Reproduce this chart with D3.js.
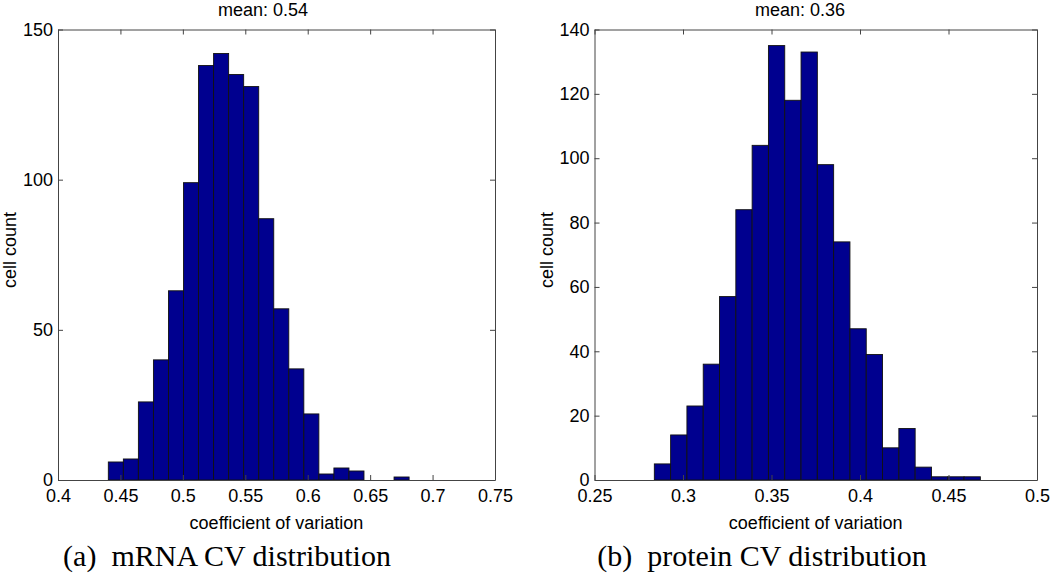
<!DOCTYPE html>
<html>
<head>
<meta charset="utf-8">
<script src="https://cdn.jsdelivr.net/npm/d3@7"></script>
<style>
  body { margin: 0; background: #fff; }
  svg { display: block; }
</style>
</head>
<body>
<div id="chart"></div>
<script>
const width = 1050
const height = 578

// mRNA CV histogram, 20 equal bins between the min and max CV
const mrnaRange = [0.4403, 0.6812]
const mrnaCounts = [6, 7, 26, 40, 63, 99, 138, 142, 135, 131, 87, 57, 37, 22, 2, 4, 3, 0, 0, 1]
const mrnaXTicks = [0.4, 0.45, 0.5, 0.55, 0.6, 0.65, 0.7, 0.75]
const mrnaYTicks = [0, 50, 100, 150]

// protein CV histogram
const protRange = [0.2838, 0.4680]
const protCounts = [5, 14, 23, 36, 57, 84, 104, 135, 118, 133, 98, 74, 47, 39, 10, 16, 4, 1, 1, 1]
const protXTicks = [0.25, 0.3, 0.35, 0.4, 0.45, 0.5]
const protYTicks = [0, 20, 40, 60, 80, 100, 120, 140]

const panels = [
  {left: 58, right: 495, xDomain: [0.4, 0.75], yMax: 150, range: mrnaRange, counts: mrnaCounts,
   xTicks: mrnaXTicks, yTicks: mrnaYTicks, title: "mean: 0.54", titleX: 263, caption: "(a)  mRNA CV distribution", capX: 227},
  {left: 594.5, right: 1037, xDomain: [0.25, 0.5], yMax: 140, range: protRange, counts: protCounts,
   xTicks: protXTicks, yTicks: protYTicks, title: "mean: 0.36", titleX: 800, caption: "(b)  protein CV distribution", capX: 762}
]
const plotTop = 29.5, plotBottom = 480

const svg = d3.select("#chart").append("svg")
    .attr("width", width)
    .attr("height", height)
    .attr("viewBox", [0, 0, width, height])

const sans = "'Liberation Sans', Arial, Helvetica, sans-serif"
const axisColor = "#444"

panels.forEach(p => {
  const x = d3.scaleLinear().domain(p.xDomain).range([p.left, p.right])
  const y = d3.scaleLinear().domain([0, p.yMax]).range([plotBottom, plotTop])

  const n = p.counts.length
  const step = (p.range[1] - p.range[0]) / n
  const bins = p.counts.map((c, i) => ({x0: p.range[0] + i * step, x1: p.range[0] + (i + 1) * step, count: c}))

  const g = svg.append("g")

  // bars
  g.append("g")
    .selectAll("rect")
    .data(bins.filter(d => d.count > 0))
    .join("rect")
      .attr("x", d => x(d.x0))
      .attr("y", d => y(d.count))
      .attr("width", d => x(d.x1) - x(d.x0))
      .attr("height", d => y(0) - y(d.count))
      .attr("fill", "#00008f")
      .attr("stroke", "#111")
      .attr("stroke-width", 0.9)

  // axes, ticks pointing inward (matlab style), box on
  const xAxis = g => g
    .attr("transform", `translate(0,${plotBottom})`)
    .call(d3.axisBottom(x).tickValues(p.xTicks).tickFormat(d3.format("~g")).tickSize(-5).tickPadding(9).tickSizeOuter(0))
  const yAxis = g => g
    .attr("transform", `translate(${p.left},0)`)
    .call(d3.axisLeft(y).tickValues(p.yTicks).tickSize(-5).tickPadding(5).tickSizeOuter(0))

  g.append("g").call(xAxis)
  g.append("g").call(yAxis)
  g.append("g").attr("transform", `translate(0,${plotTop})`)
    .call(d3.axisTop(x).tickValues(p.xTicks).tickSize(-5).tickFormat("").tickSizeOuter(0))
  g.append("g").attr("transform", `translate(${p.right},0)`)
    .call(d3.axisRight(y).tickValues(p.yTicks).tickSize(-5).tickFormat("").tickSizeOuter(0))

  g.selectAll(".domain").attr("stroke", axisColor)
  g.selectAll(".tick line").attr("stroke", axisColor)
  g.selectAll(".tick text")
    .attr("fill", "#000")
    .attr("font-family", sans)
    .attr("font-size", 18)

  // title
  g.append("text")
    .attr("x", p.titleX)
    .attr("y", 16)
    .attr("text-anchor", "middle")
    .attr("font-family", sans)
    .attr("font-size", 18)
    .text(p.title)

  // axis labels
  g.append("text")
    .attr("x", (p.left + p.right) / 2)
    .attr("y", 529)
    .attr("text-anchor", "middle")
    .attr("font-family", sans)
    .attr("font-size", 18)
    .text("coefficient of variation")

  g.append("text")
    .attr("transform", `translate(${p.left - 42},250) rotate(-90)`)
    .attr("text-anchor", "middle")
    .attr("font-family", sans)
    .attr("font-size", 18)
    .text("cell count")

  // caption
  g.append("text")
    .attr("x", p.capX)
    .attr("y", 566)
    .attr("text-anchor", "middle")
    .attr("font-family", "'Liberation Serif', 'Times New Roman', serif")
    .attr("font-size", 30)
    .style("white-space", "pre")
    .text(p.caption)
})
</script>
</body>
</html>
